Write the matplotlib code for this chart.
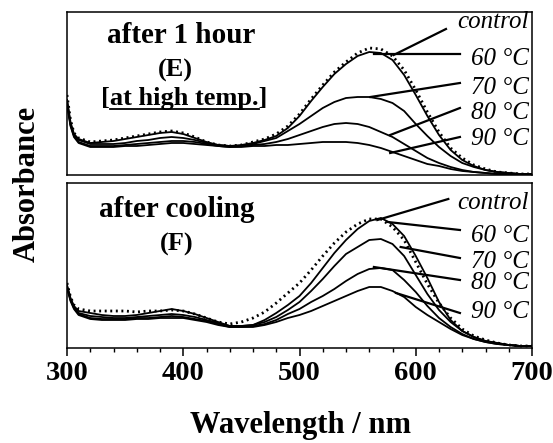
import numpy as np
import matplotlib
matplotlib.use("Agg")
import matplotlib.pyplot as plt

plt.rcParams["font.family"] = ["Liberation Serif", "DejaVu Serif"]

# ── data (absorbance, arbitrary units) ───────────────────────────────────────
wavelength = [300, 303, 306] + list(range(310, 701, 10))

labels = ["control", "60 \u00b0C", "70 \u00b0C", "80 \u00b0C", "90 \u00b0C"]

# (E) after 1 hour, at high temperature
abs_E_control = [0.80, 0.55, 0.42, 0.37, 0.33, 0.34, 0.35, 0.37, 0.39, 0.41, 0.43, 0.44, 0.42, 0.38,
                 0.33, 0.30, 0.29, 0.30, 0.33, 0.36, 0.41, 0.49, 0.61, 0.76, 0.90, 1.03, 1.13, 1.22,
                 1.27, 1.26, 1.19, 1.05, 0.85, 0.63, 0.43, 0.27, 0.17, 0.10, 0.06, 0.03, 0.02, 0.01, 0.01]
abs_E_60 = [0.75, 0.53, 0.41, 0.36, 0.32, 0.33, 0.34, 0.36, 0.38, 0.40, 0.42, 0.43, 0.41, 0.37,
            0.33, 0.30, 0.29, 0.30, 0.32, 0.35, 0.39, 0.47, 0.59, 0.74, 0.88, 1.01, 1.11, 1.19,
            1.23, 1.22, 1.15, 1.00, 0.80, 0.59, 0.40, 0.25, 0.15, 0.09, 0.05, 0.03, 0.02, 0.01, 0.01]
abs_E_70 = [0.75, 0.51, 0.40, 0.35, 0.31, 0.31, 0.31, 0.32, 0.34, 0.35, 0.37, 0.38, 0.37, 0.35,
            0.32, 0.30, 0.29, 0.29, 0.31, 0.34, 0.37, 0.44, 0.51, 0.59, 0.67, 0.73, 0.77, 0.78,
            0.78, 0.76, 0.72, 0.64, 0.51, 0.39, 0.28, 0.19, 0.12, 0.08, 0.05, 0.03, 0.02, 0.01, 0.01]
abs_E_80 = [0.73, 0.50, 0.39, 0.33, 0.29, 0.29, 0.29, 0.30, 0.31, 0.32, 0.33, 0.34, 0.34, 0.33,
            0.31, 0.29, 0.28, 0.29, 0.30, 0.31, 0.33, 0.36, 0.40, 0.44, 0.48, 0.51, 0.52, 0.51,
            0.48, 0.43, 0.38, 0.31, 0.24, 0.17, 0.12, 0.08, 0.05, 0.03, 0.02, 0.01, 0.01, 0.01, 0.01]
abs_E_90 = [0.70, 0.49, 0.38, 0.32, 0.28, 0.28, 0.28, 0.29, 0.29, 0.30, 0.31, 0.32, 0.32, 0.31,
            0.30, 0.29, 0.28, 0.28, 0.29, 0.29, 0.30, 0.30, 0.31, 0.32, 0.33, 0.33, 0.33, 0.32,
            0.30, 0.27, 0.23, 0.19, 0.15, 0.11, 0.09, 0.06, 0.04, 0.03, 0.02, 0.01, 0.01, 0.01, 0.01]

# (F) after cooling
abs_F_control = [0.65, 0.51, 0.43, 0.39, 0.37, 0.37, 0.37, 0.37, 0.36, 0.37, 0.37, 0.38, 0.37, 0.34,
                 0.30, 0.26, 0.24, 0.26, 0.30, 0.36, 0.45, 0.55, 0.65, 0.78, 0.92, 1.05, 1.16, 1.24,
                 1.29, 1.29, 1.21, 1.08, 0.86, 0.64, 0.45, 0.30, 0.19, 0.12, 0.08, 0.05, 0.03, 0.02, 0.02]
abs_F_60 = [0.63, 0.50, 0.42, 0.37, 0.35, 0.33, 0.32, 0.32, 0.33, 0.35, 0.37, 0.39, 0.37, 0.34,
            0.30, 0.26, 0.22, 0.22, 0.23, 0.28, 0.35, 0.43, 0.52, 0.65, 0.80, 0.95, 1.08, 1.19,
            1.27, 1.30, 1.24, 1.12, 0.92, 0.70, 0.46, 0.28, 0.17, 0.11, 0.07, 0.05, 0.03, 0.02, 0.02]
abs_F_70 = [0.62, 0.49, 0.41, 0.35, 0.32, 0.31, 0.30, 0.30, 0.31, 0.32, 0.33, 0.34, 0.33, 0.31,
            0.28, 0.25, 0.22, 0.22, 0.23, 0.26, 0.31, 0.38, 0.46, 0.57, 0.69, 0.82, 0.94, 1.01,
            1.08, 1.09, 1.04, 0.92, 0.73, 0.54, 0.38, 0.26, 0.17, 0.11, 0.07, 0.05, 0.03, 0.02, 0.02]
abs_F_80 = [0.61, 0.48, 0.40, 0.34, 0.30, 0.29, 0.29, 0.29, 0.30, 0.30, 0.31, 0.32, 0.31, 0.29,
            0.27, 0.24, 0.21, 0.21, 0.22, 0.24, 0.28, 0.34, 0.39, 0.46, 0.52, 0.59, 0.67, 0.74,
            0.79, 0.80, 0.78, 0.68, 0.56, 0.42, 0.30, 0.21, 0.14, 0.09, 0.06, 0.04, 0.03, 0.02, 0.02]
abs_F_90 = [0.60, 0.47, 0.39, 0.33, 0.29, 0.28, 0.28, 0.28, 0.29, 0.29, 0.30, 0.30, 0.30, 0.28,
            0.26, 0.23, 0.21, 0.21, 0.21, 0.23, 0.26, 0.30, 0.33, 0.37, 0.42, 0.47, 0.52, 0.57,
            0.61, 0.61, 0.57, 0.51, 0.41, 0.33, 0.26, 0.19, 0.13, 0.09, 0.06, 0.04, 0.03, 0.02, 0.02]

# leader lines: (curve point) -> (label end), and label anchor heights
leaders_E = [((581, 1.20), (626, 1.46)), ((564, 1.21), (638, 1.21)), ((561, 0.78), (638, 0.92)),
             ((578, 0.40), (638, 0.67)), ((578, 0.22), (638, 0.38))]
label_y_E = [1.53, 1.16, 0.87, 0.62, 0.36]
leaders_F = [((567, 1.28), (628, 1.49)), ((576, 1.26), (638, 1.18)), ((587, 1.01), (638, 0.90)),
             ((564, 0.81), (638, 0.68)), ((583, 0.55), (638, 0.35))]
label_y_F = [1.45, 1.12, 0.86, 0.65, 0.36]

W, H = 553, 443
fig = plt.figure(figsize=(W / 100, H / 100), dpi=100)

ax_E = fig.add_axes([67 / W, 1 - 175 / H, 465 / W, 163 / H])
ax_F = fig.add_axes([67 / W, 1 - 348 / H, 465 / W, 165 / H])


def draw_panel(ax, series, leaders, label_y, ymax):
    for i, y in enumerate(series):
        if i == 0:
            ax.plot(wavelength, y, color="black", lw=2.0, ls=(0, (0.7, 1.3)),
                    solid_capstyle="round")
        else:
            ax.plot(wavelength, y, color="black", lw=1.3)
    for (p0, p1) in leaders:
        ax.plot([p0[0], p1[0]], [p0[1], p1[1]], color="black", lw=1.6)
    for lab, ly in zip(labels, label_y):
        ax.text(697, ly, lab, ha="right", va="center", fontsize=18,
                style="italic")
    ax.set_xlim(300, 700)
    ax.set_ylim(0, ymax)
    ax.set_yticks([])
    for sp in ax.spines.values():
        sp.set_linewidth(1.1)


draw_panel(ax_E, [abs_E_control, abs_E_60, abs_E_70, abs_E_80, abs_E_90],
           leaders_E, label_y_E, 1.63)
draw_panel(ax_F, [abs_F_control, abs_F_60, abs_F_70, abs_F_80, abs_F_90],
           leaders_F, label_y_F, 1.65)

ax_E.set_xticks([])

ax_F.set_xticks([300, 400, 500, 600, 700])
ax_F.set_xticks(np.arange(300, 701, 20), minor=True)
ax_F.tick_params(axis="x", which="major", direction="out", length=6, width=1.1,
                 pad=3, labelsize=20.5)
ax_F.tick_params(axis="x", which="minor", direction="out", length=3, width=1.0)
for t in ax_F.get_xticklabels():
    t.set_fontweight("bold")

# panel captions
ax_E.text(398, 1.32, "after 1 hour", ha="center", va="baseline",
          fontsize=21, fontweight="bold")
ax_E.text(393, 1.05, "(E)", ha="center", va="center", fontsize=19,
          fontweight="bold")
bracket = ax_E.text(401, 0.70, "[at high temp.]", ha="center", va="baseline",
                    fontsize=19, fontweight="bold")

ax_F.text(394, 1.31, "after cooling", ha="center", va="baseline",
          fontsize=21, fontweight="bold")
ax_F.text(394, 1.04, "(F)", ha="center", va="center", fontsize=19,
          fontweight="bold")

fig.text(27 / W, 1 - 184 / H, "Absorbance", rotation=90, ha="center",
         va="center", fontsize=22, fontweight="bold")
fig.text(300 / W, 1 - 425 / H, "Wavelength / nm", ha="center", va="center",
         fontsize=22, fontweight="bold")

# underline "at high temp." (inside the brackets)
fig.canvas.draw()
r = fig.canvas.get_renderer()
bb = bracket.get_window_extent(r)
tmp = ax_E.text(0, 0, "[", fontsize=19, fontweight="bold")
w_br = tmp.get_window_extent(r).width
tmp.remove()
inv = ax_E.transData.inverted()
x0 = inv.transform((bb.x0 + w_br, 0))[0]
x1 = inv.transform((bb.x1 - w_br, 0))[0]
ax_E.plot([x0, x1], [0.665, 0.665], color="black", lw=1.3)

fig.savefig("out.png", dpi=100)
